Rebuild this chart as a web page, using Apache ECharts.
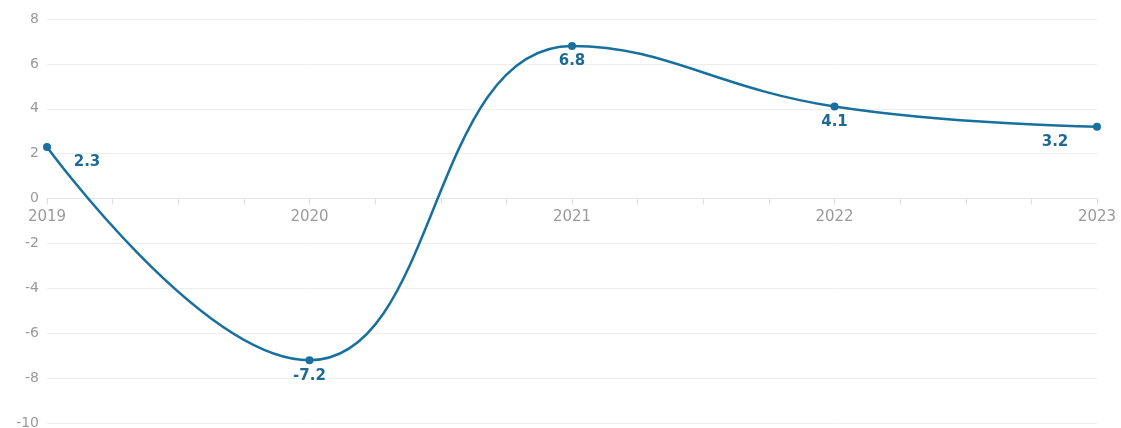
<!DOCTYPE html>
<html>
<head>
<meta charset="utf-8">
<script src="https://cdn.jsdelivr.net/npm/echarts@6/dist/echarts.min.js"></script>
<style>
  html, body { margin: 0; padding: 0; background: #fff; overflow: hidden; }
  #chart { width: 1121px; height: 428px; }
</style>
</head>
<body>
<div id="chart"></div>
<script>
// Annual change, per year
const years = [2019, 2020, 2021, 2022, 2023];
const values = [2.3, -7.2, 6.8, 4.1, 3.2];
const yTicks = [-10, -8, -6, -4, -2, 0, 2, 4, 6, 8];

const lineColor = '#17709d';
const labelColor = '#1d6a93';
const axisTextColor = '#9a9a9a';

// Label offsets keep the edge labels inside the plot
const labelOffsets = [[40, 0], [0, 0], [0, 0], [0, 0], [-42, 0]];

const points = years.map((y, i) => ({
  value: [y, values[i]],
  label: { offset: labelOffsets[i] }
}));

const gridTop = 19;
const gridBottom = 5;
const plotHeight = 428 - gridTop - gridBottom;
const yMin = yTicks[0];
const yMax = yTicks[yTicks.length - 1];
// Shift the year axis up so it sits on the zero line
const zeroShift = -plotHeight * (0 - yMin) / (yMax - yMin);

const chart = echarts.init(document.getElementById('chart'));
chart.setOption({
  animation: false,
  backgroundColor: '#ffffff',
  grid: {
    left: 47, right: 24, top: gridTop, bottom: gridBottom,
    containLabel: false, outerBoundsMode: 'none'
  },
  xAxis: {
    type: 'value',
    min: years[0],
    max: years[years.length - 1],
    interval: 0.25,
    offset: zeroShift,
    axisLine: { onZero: false, lineStyle: { color: '#e3e3e3', width: 1 } },
    axisTick: { show: true, length: 6, lineStyle: { color: '#dedede' } },
    splitLine: { show: false },
    axisLabel: {
      color: axisTextColor,
      fontFamily: 'DejaVu Sans',
      fontSize: 15,
      margin: 11,
      formatter: v => (Number.isInteger(v) ? String(v) : '')
    }
  },
  yAxis: {
    type: 'value',
    min: yMin,
    max: yMax,
    interval: 2,
    axisLine: { show: false },
    axisTick: { show: false },
    splitLine: { lineStyle: { color: '#eeeeee', width: 1 } },
    axisLabel: {
      color: axisTextColor,
      fontFamily: 'DejaVu Sans',
      fontSize: 14,
      margin: 8
    }
  },
  series: [{
    type: 'line',
    data: points,
    smooth: 0.45,
    symbol: 'circle',
    symbolSize: 8,
    lineStyle: { color: lineColor, width: 2.5 },
    itemStyle: { color: lineColor },
    label: {
      show: true,
      position: 'bottom',
      distance: 4,
      color: labelColor,
      fontFamily: 'DejaVu Sans',
      fontWeight: 'bold',
      fontSize: 15,
      formatter: p => p.value[1].toFixed(1)
    }
  }]
});
</script>
</body>
</html>
